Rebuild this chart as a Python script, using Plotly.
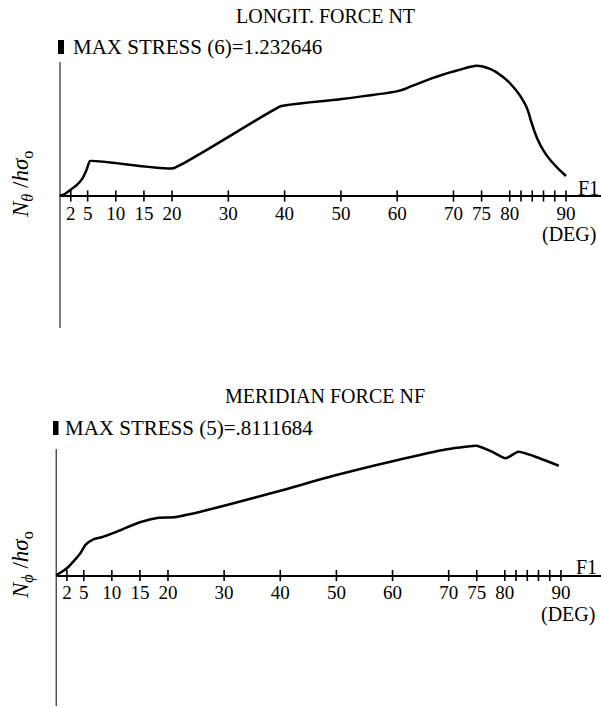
import plotly.graph_objects as go

# ---- data ----
tick_vals = [2, 5, 10, 15, 20, 30, 40, 50, 60, 70, 75, 80, 82, 84, 86, 88, 90]
label_vals = [2, 5, 10, 15, 20, 30, 40, 50, 60, 70, 75, 80, 90]
label_text = ["2", "5", "10", "15", "20", "30", "40", "50", "60", "70", "75", "80", "90"]

nt_deg = [0, 1, 2, 3, 4, 4.8, 5.4, 20.2, 39.4, 49.8, 59.9, 61.5, 62.8, 66, 68.8, 71.5, 73, 74.1,
          75.2, 76.4, 77.6, 78.8, 79.8, 80.6, 81.5, 82.3, 83, 83.4, 83.8, 84.4, 85, 86, 87.2, 88.6, 90]
nt_val = [0, 0.02, 0.06, 0.10, 0.16, 0.246, 0.331, 0.262, 0.851, 0.915, 0.990, 1.015, 1.045, 1.11,
          1.160, 1.200, 1.222, 1.2326, 1.226, 1.205, 1.172, 1.125, 1.080, 1.034, 0.975, 0.910, 0.840,
          0.780, 0.705, 0.610, 0.530, 0.43, 0.341, 0.26, 0.189]

nf_deg = [0, 2, 4.4, 5.3, 6.7, 8.2, 10.9, 15, 18.3, 21, 25.8, 30.5, 40, 50, 60.2, 69.7,
          73, 75, 77.7, 80.2, 82.4, 85.1, 89.6]
nf_val = [0, 0.045, 0.139, 0.191, 0.226, 0.239, 0.274, 0.333, 0.361, 0.364, 0.399, 0.441,
          0.530, 0.628, 0.716, 0.789, 0.805, 0.8112, 0.774, 0.733, 0.774, 0.747, 0.686]

W, H = 601, 708
SERIF = "Liberation Serif"

def px(x):
    return x / W

def py(y):
    return 1 - y / H

fig = go.Figure()

# curves
fig.add_trace(go.Scatter(x=nt_deg, y=nt_val, mode="lines",
                         line=dict(color="black", width=2.5, shape="spline", smoothing=0.3),
                         xaxis="x", yaxis="y", showlegend=False, hoverinfo="skip"))
fig.add_trace(go.Scatter(x=nf_deg, y=nf_val, mode="lines",
                         line=dict(color="black", width=2.5, shape="spline", smoothing=0.6),
                         xaxis="x2", yaxis="y2", showlegend=False, hoverinfo="skip"))
# tick crosses
for xa, ya in (("x", "y"), ("x2", "y2")):
    fig.add_trace(go.Scatter(x=tick_vals, y=[0] * len(tick_vals), mode="markers",
                             marker=dict(symbol="line-ns-open", size=8, color="black",
                                         line=dict(color="black", width=1.6)),
                             xaxis=xa, yaxis=ya, showlegend=False, hoverinfo="skip",
                             cliponaxis=False))

axis_common = dict(tickmode="array", tickvals=label_vals, ticktext=label_text,
                   showgrid=False, zeroline=False, showline=True, linecolor="black",
                   linewidth=2, ticks="",
                   tickfont=dict(family=SERIF, size=19, color="black"), anchor="free")

fig.update_layout(
    xaxis=dict(domain=[px(59.5), 1], range=[0, (W - 59.5) / 5.628], position=py(196), **axis_common),
    yaxis=dict(domain=[py(335), py(50)], range=[(196 - 335) / 105.7, (196 - 50) / 105.7],
               visible=False),
    xaxis2=dict(domain=[px(55.7), 1], range=[0, (W - 55.7) / 5.614], position=py(575.5), **axis_common),
    yaxis2=dict(domain=[0, py(440)], range=[(575.5 - 708) / 160, (575.5 - 440) / 160],
                visible=False),
)

shapes = [
    dict(type="line", xref="x", yref="y", x0=0, x1=0, y0=(196 - 328) / 105.7, y1=(196 - 62) / 105.7,
         line=dict(color="black", width=2)),
    dict(type="line", xref="x2", yref="y2", x0=0, x1=0, y0=(575.5 - 706) / 160, y1=(575.5 - 449) / 160,
         line=dict(color="black", width=2)),
    dict(type="rect", xref="paper", yref="paper", x0=px(58), x1=px(64), y0=py(54), y1=py(40),
         fillcolor="black", line=dict(width=0)),
    dict(type="rect", xref="paper", yref="paper", x0=px(53), x1=px(58.5), y0=py(435), y1=py(421),
         fillcolor="black", line=dict(width=0)),
]

ann = []
def A(text, x, y, xanchor="center", size=20, angle=0):
    ann.append(dict(text=text, x=px(x), y=py(y), xref="paper", yref="paper", showarrow=False,
                    xanchor=xanchor, yanchor="middle", textangle=angle,
                    font=dict(family=SERIF, size=size, color="black")))

A("LONGIT. FORCE NT", 325, 16)
A("MAX STRESS (6)=1.232646", 71, 47, xanchor="left", size=21)
A("F1", 601, 188, xanchor="right")
A("(DEG)", 569, 234)
A("<i>N</i><sub><i>θ</i></sub> /<i>hσ</i><sub>o</sub>", 22, 185, size=23, angle=-90)

A("MERIDIAN FORCE NF", 325, 396)
A("MAX STRESS (5)=.8111684", 63, 428, xanchor="left", size=21)
A("F1", 599, 567, xanchor="right")
A("(DEG)", 568, 614)
A("<i>N</i><sub><i>ϕ</i></sub> /<i>hσ</i><sub>o</sub>", 22, 565, size=23, angle=-90)

fig.update_layout(width=W, height=H, margin=dict(l=0, r=0, t=0, b=0),
                  paper_bgcolor="white", plot_bgcolor="white",
                  shapes=shapes, annotations=ann, showlegend=False)

fig.write_html("out.html")
